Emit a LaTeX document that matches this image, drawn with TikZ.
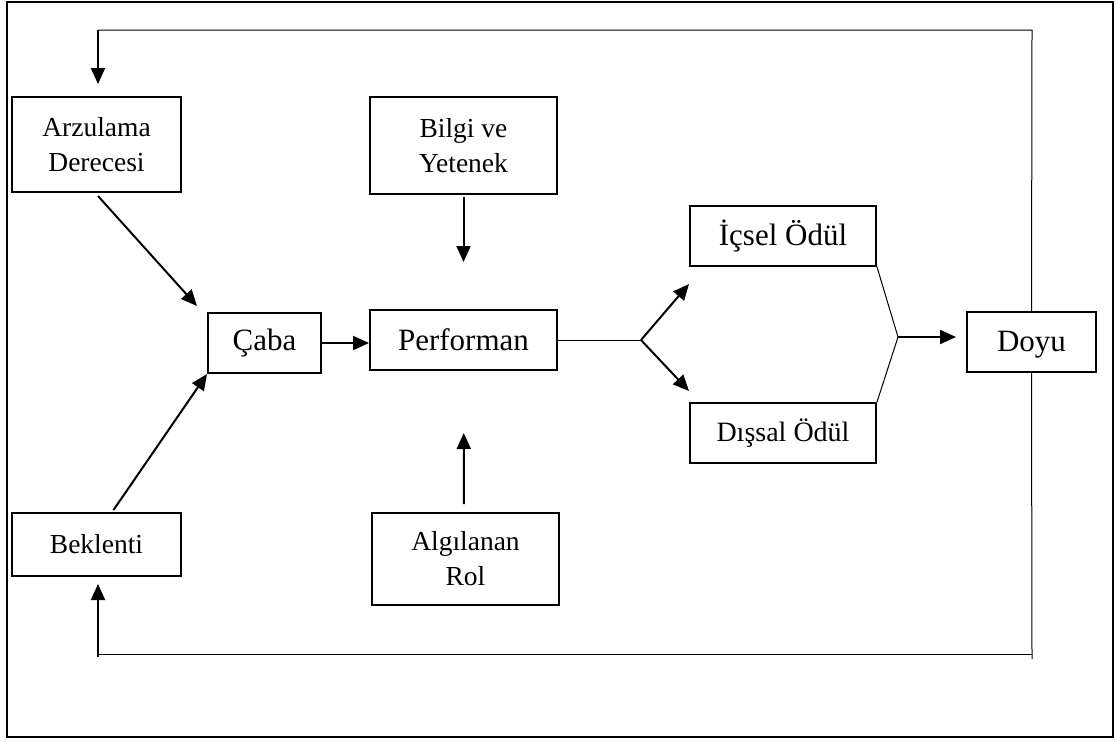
\documentclass[tikz,border=0pt]{standalone}
\usepackage{fontspec}
\setmainfont{Liberation Serif}
\usetikzlibrary{arrows.meta,calc}
\begin{document}
\begin{tikzpicture}[x=1pt,y=-1pt,
  box/.style={draw,line width=2pt,fill=white,inner sep=0pt,align=center},
  smalltext/.style={font=\fontsize{27.5}{35}\selectfont},
  bigtext/.style={font=\fontsize{31}{36}\selectfont},
  midtext/.style={font=\fontsize{28}{30}\selectfont},
  arr/.style={line width=2pt,-{Triangle[length=16pt,width=14pt]}},
  thinline/.style={line width=1pt}]
\useasboundingbox (0,0) rectangle (1115,742);
\draw[line width=2pt] (7,2) rectangle (1113,737);

\node[box,smalltext,minimum width=169pt,minimum height=95pt] (arz) at (96.5,144.5) {Arzulama\\Derecesi};
\node[box,smalltext,minimum width=187pt,minimum height=97pt] (bilgi) at (463.5,145.5) {Bilgi ve\\Yetenek};
\node[box,bigtext,minimum width=113pt,minimum height=60pt] (caba) at (264.5,343) {Çaba};
\node[box,bigtext,minimum width=187pt,minimum height=60pt] (perf) at (463.5,340) {Performan};
\node[box,smalltext,minimum width=169pt,minimum height=63pt] (bek) at (96.5,544.5) {Beklenti};
\node[box,smalltext,minimum width=187pt,minimum height=92pt] (alg) at (465.5,559) {Algılanan\\Rol};
\node[box,bigtext,minimum width=186pt,minimum height=60pt] (ic) at (783,236) {İçsel Ödül};
\node[box,midtext,minimum width=186pt,minimum height=60pt] (dis) at (783,433) {Dışsal Ödül};
\node[box,bigtext,minimum width=129pt,minimum height=60pt,text depth=2pt] (doyu) at (1031.5,342) {Doyu};

\coordinate (tr) at (1032,30);
\coordinate (tl) at (98,30);
\coordinate (brc) at (1032,659);
\coordinate (brl) at (1032,654);
\coordinate (blc) at (98,654);
\coordinate (br) at (641,340);
\coordinate (mg) at (898,337);

% inputs to Caba
\draw[arr] ($(arz.south)+(1.5,3)$) -- ($(caba.north west)+(-10,-6)$);
\draw[arr] ($(bek.north)+(17,-2)$) -- (caba.south west);
\draw[arr] (caba.east) -- (caba.east -| perf.west);
% inputs to Performan
\draw[arr,shorten <=2pt,shorten >=47pt] (bilgi.south) -- (perf.north);
\draw[arr,shorten <=8pt,shorten >=62pt] ($(alg.north)+(-1.5,0)$) -- (perf.south);
% branch
\draw[thinline] (perf.east) -- (br);
\draw[arr] (br) -- ($(ic.south west)+(0,17)$);
\draw[arr] (br) -- ($(dis.north west)+(0,-11)$);
% merge
\draw[thinline] (ic.south east) -- (mg) -- (dis.north east);
\draw[arr,shorten >=10pt] (mg) -- (mg -| doyu.west);
% feedback
\draw[thinline] (doyu.north) -- (tr) -- (tl);
\draw[arr] (tl) -- ($(tl |- arz.north)+(0,-12)$);
\draw[thinline] (doyu.south) -- (brc);
\draw[thinline] (brl) -- (blc);
\draw[arr] ($(blc)+(0,3)$) -- ($(blc |- bek.south)+(0,7)$);
\end{tikzpicture}
\end{document}
